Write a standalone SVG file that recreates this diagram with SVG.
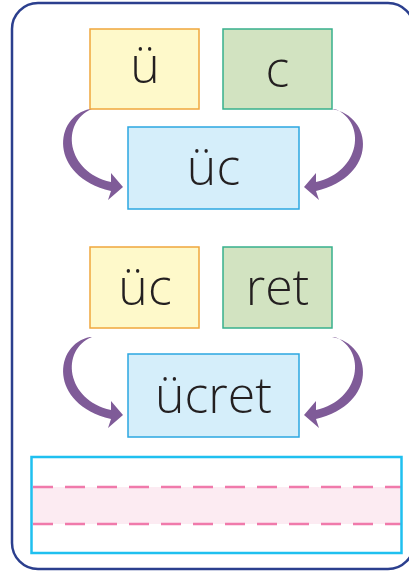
<svg xmlns="http://www.w3.org/2000/svg" width="409" height="575" viewBox="0 0 409 575">
<style>
.frame{fill:#ffffff;stroke:#2b3f8e;stroke-width:2.5}
.y{fill:#fef9ca;stroke:#f0a73c;stroke-width:1.5}
.g{fill:#d2e3c1;stroke:#37b08c;stroke-width:1.5}
.b{fill:#d5eefa;stroke:#2ba7e1;stroke-width:1.5}
.t{font-family:"Open Sans","DejaVu Sans",sans-serif;font-weight:300;font-size:50px;fill:#231f20;text-anchor:middle}
.arr{fill:#7f5b98}
.dash{stroke:#f07aab;stroke-width:2.5;stroke-dasharray:20 12;fill:none}
</style>
<rect class="frame" x="12" y="3" width="402" height="566" rx="26"/>
<g id="connectors">
<path class="arr" d="M 90 109 C 54 116, 48 176, 111 191 L 108 200 L 123 187 L 111 173 L 111 182 C 66 172, 60 122, 92 109 Z"/>
<path class="arr" d="M 332 109 C 373 116, 379 176, 316 191 L 319 200 L 304 187 L 316 173 L 316 182 C 361 172, 367 122, 335 109 Z"/>
<path class="arr" transform="translate(0,228)" d="M 90 109 C 54 116, 48 176, 111 191 L 108 200 L 123 187 L 111 173 L 111 182 C 66 172, 60 122, 92 109 Z"/>
<path class="arr" transform="translate(0,228)" d="M 332 109 C 373 116, 379 176, 316 191 L 319 200 L 304 187 L 316 173 L 316 182 C 361 172, 367 122, 335 109 Z"/>
</g>
<g id="n-u"><rect class="y" x="90" y="29" width="109" height="80"/><text class="t" x="145" y="83">ü</text></g>
<g id="n-c"><rect class="g" x="223" y="29" width="109" height="80"/><text class="t" x="277.5" y="87">c</text></g>
<g id="n-uc"><rect class="b" x="128" y="127" width="171" height="82"/><text class="t" x="213.5" y="185">üc</text></g>
<g id="n-uc2"><rect class="y" x="90" y="247" width="109" height="81"/><text class="t" x="145" y="305">üc</text></g>
<g id="n-ret"><rect class="g" x="223" y="247" width="109" height="81"/><text class="t" x="277.5" y="305">ret</text></g>
<g id="n-ucret"><rect class="b" x="128" y="354" width="171" height="83"/><text class="t" x="213.5" y="413">ücret</text></g>
<g id="lines">
<rect x="31.5" y="487" width="370" height="37" fill="#fcebf2"/>
<line class="dash" x1="33" y1="487" x2="401" y2="487"/>
<line class="dash" x1="33" y1="524" x2="401" y2="524"/>
<rect x="31.5" y="457" width="370" height="96" fill="none" stroke="#1fc0f0" stroke-width="2.5"/>
</g>
</svg>
